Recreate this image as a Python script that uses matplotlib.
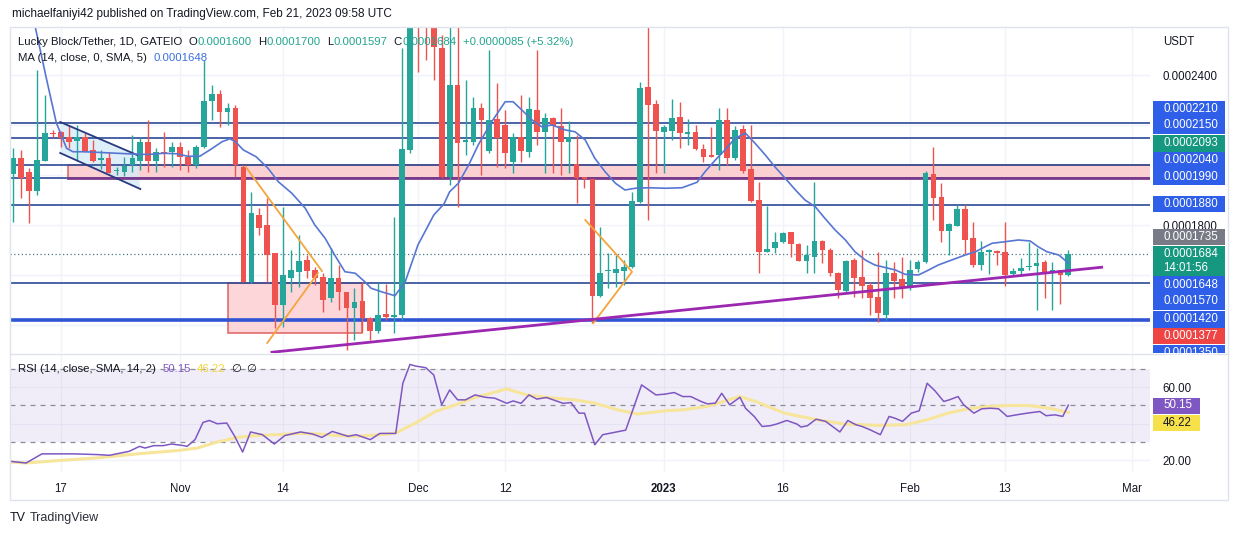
import numpy as np
import pandas as pd
import matplotlib
matplotlib.use('Agg')
import matplotlib.pyplot as plt
import matplotlib.dates as mdates
from matplotlib.patches import Rectangle, Polygon

plt.rcParams['font.family'] = ['Liberation Sans', 'DejaVu Sans']

# ---- data (prices in units of 1e-7 USDT, one candle per day from 2022-10-11) ----
start = '2022-10-11'
open_ = [2003, 2067, 2013, 1937, 2057, 2167, 2171, 2151, 2137, 2151, 2100, 2061, 2069, 2016, 2013, 2040, 2056, 2133, 2056, 2093, 2093, 2111, 2073, 2040, 2113, 2296, 2323, 2251,
         2267, 2033, 1573, 1840, 1800, 1687, 1480, 1587, 1613, 1660, 1620, 1593, 1507, 1587, 1533, 1467, 1496, 1427, 1376, 1443, 1434, 1440, 2100, 2850, 2700, 2700, 2508,
         1993, 2360, 2131, 2133, 2267, 2096, 2223, 2200, 2053, 2153, 2093, 2260, 2173, 2227, 2197, 2133, 2043, 1993, 1984, 1517, 1616, 1607, 1617, 1631, 1891, 2353, 2284, 2173,
         2176, 2233, 2165, 2171, 2104, 2080, 2080, 2220, 2067, 2184, 2024, 1900, 1693, 1709, 1733, 1771, 1724, 1657, 1673, 1736, 1700, 1607, 1537, 1660, 1591, 1560, 1513, 1440,
         1607, 1584, 1547, 1624, 1651, 2003, 1911, 1776, 1797, 1864, 1747, 1640, 1691, 1696, 1691, 1603, 1616, 1631, 1635, 1651, 1607, 1620, 1600]
high = [2107, 2100, 2027, 2420, 2320, 2180, 2175, 2200, 2200, 2167, 2140, 2100, 2093, 2033, 2073, 2160, 2147, 2220, 2107, 2173, 2133, 2133, 2100, 2120, 2460, 2360, 2340, 2287,
        2280, 2040, 1933, 1867, 1907, 1687, 1873, 1700, 1760, 1680, 1633, 1607, 1707, 1640, 1533, 1547, 1573, 1433, 1567, 1563, 1833, 2507, 2950, 2900, 2800, 2750, 2560,
        2620, 2620, 2380, 2313, 2287, 2500, 2367, 2260, 2167, 2320, 2313, 2500, 2247, 2233, 2269, 2216, 2160, 1993, 1984, 1793, 1687, 1680, 1660, 1933, 2373, 2620, 2300, 2200,
        2304, 2293, 2223, 2200, 2123, 2193, 2267, 2267, 2197, 2200, 2200, 1973, 1876, 1773, 1773, 1773, 1727, 1720, 1973, 1740, 1707, 1611, 1660, 1667, 1700, 1573, 1693, 1660,
        1653, 1673, 1660, 1660, 2016, 2113, 1967, 1807, 1880, 1880, 1813, 1736, 1704, 1700, 1813, 1627, 1667, 1733, 1707, 1660, 1651, 1620, 1700]
low = [1813, 1907, 1807, 1920, 2055, 2153, 2113, 2107, 2056, 2093, 2053, 2024, 2007, 2000, 1997, 2013, 2020, 2013, 2013, 2033, 2033, 2020, 2013, 2030, 2107, 2220, 2193, 2200,
       1993, 1573, 1567, 1760, 1573, 1387, 1393, 1533, 1553, 1587, 1560, 1453, 1493, 1460, 1300, 1340, 1373, 1340, 1367, 1420, 1367, 1420, 2090, 2412, 2460, 2380, 1990,
       1960, 1873, 2080, 2120, 2000, 2087, 2033, 2027, 2007, 2053, 2073, 2120, 2007, 2007, 2000, 2007, 1887, 1947, 1407, 1513, 1547, 1553, 1560, 1627, 1887, 1820, 2007, 2007,
       2140, 2109, 2120, 2100, 2053, 2073, 2020, 2040, 2060, 2007, 1893, 1607, 1693, 1687, 1727, 1673, 1656, 1607, 1607, 1647, 1597, 1507, 1533, 1513, 1507, 1440, 1413, 1420,
       1507, 1507, 1540, 1613, 1647, 1820, 1733, 1680, 1797, 1683, 1633, 1620, 1603, 1640, 1557, 1597, 1597, 1620, 1460, 1509, 1460, 1483, 1597]
close = [2067, 1987, 1937, 2060, 2167, 2163, 2147, 2133, 2151, 2096, 2056, 2069, 2009, 2018, 2037, 2067, 2133, 2056, 2093, 2087, 2111, 2073, 2040, 2113, 2296, 2323, 2253, 2267,
         2040, 1573, 1847, 1787, 1680, 1480, 1600, 1620, 1656, 1616, 1587, 1500, 1587, 1533, 1467, 1493, 1427, 1376, 1440, 1433, 1437, 2104, 2850, 2700, 2620, 2512, 1993,
         2360, 2127, 2140, 2267, 2220, 2220, 2149, 2089, 2153, 2096, 2264, 2173, 2229, 2197, 2131, 2153, 1987, 1984, 1517, 1607, 1621, 1624, 1631, 1896, 2347, 2280, 2176, 2191,
         2227, 2167, 2171, 2104, 2071, 2073, 2220, 2067, 2180, 2017, 1897, 1693, 1703, 1731, 1769, 1724, 1657, 1680, 1736, 1700, 1607, 1540, 1656, 1587, 1557, 1507, 1447, 1607,
         1576, 1547, 1620, 1653, 2009, 1909, 1776, 1803, 1864, 1740, 1640, 1693, 1699, 1687, 1600, 1616, 1627, 1637, 1648, 1607, 1620, 1599, 1684]

# MA(14) line (day offset, value)
ma_day = [1.0, 2.7, 4.2, 5.4, 6.7, 7.5, 9, 11, 13, 15, 17, 19, 20.5, 22, 23.5, 25, 26.3, 27.3, 28, 29, 30.6, 32.1, 33.4, 35.1,
          36.8, 38, 39.3, 40.5, 41.8, 43.1, 44.3, 45.1, 46.4, 48.1, 49.4, 51, 53, 54.3, 55, 56.1, 57.4, 58.6, 60.3, 62, 63,
          64.1, 65.4, 66.6, 67.9, 69.6, 70.8, 72.1, 73.3, 74.6, 75.9, 77.1, 78.4, 80.1, 82.2, 84.3, 86.2, 87.2, 88.5, 89.7,
          91, 92.3, 93.5, 94.8, 96, 97.3, 98.6, 99.8, 101.1, 102.3, 103.6, 104.9, 106.1, 107.4, 108.6, 109.9, 111.2, 112.4,
          114.1, 115.4, 116.6, 118.3, 120, 121.3, 122.5, 123.4, 125, 126.7, 128.2, 129.2, 130.3, 131.8, 133]
ma_val = [2900, 2600, 2380, 2210, 2107, 2093, 2093, 2090, 2087, 2084, 2082, 2087, 2085, 2075, 2075, 2105, 2133, 2145, 2133, 2100, 2073, 2027, 1973, 1927,
          1867, 1800, 1747, 1680, 1613, 1607, 1573, 1547, 1533, 1517, 1573, 1720, 1840, 1885, 1933, 1967, 2040, 2120, 2213, 2293, 2293,
          2260, 2220, 2193, 2200, 2180, 2173, 2140, 2067, 2013, 1967, 1940, 1947, 1949, 1947, 1949, 1971, 2013, 2060, 2100,
          2147, 2167, 2127, 2080, 2033, 1987, 1940, 1900, 1873, 1827, 1780, 1740, 1693, 1660, 1640, 1630, 1620, 1603,
          1600, 1620, 1640, 1660, 1680, 1693, 1713, 1727, 1733, 1740, 1736, 1713, 1693, 1680, 1648]

# RSI(14) and its SMA
rsi_day = [-0.6, 1.6, 3.6, 7.6, 10.6, 12.1, 14.6, 15.9, 16.6, 17.7, 18.9, 19.9, 21.2, 21.9, 22.9, 23.9, 24.7, 25.7, 26.9, 27.9,
           28.9, 29.9, 31.4, 32.9, 34.2, 36.2, 37.7, 38.9, 40.2, 42.2, 43.2, 45, 46.2, 48.2, 49.1, 50, 50.7, 52, 53, 54, 55,
           56, 57, 58.2, 59.5, 60.7, 62.2, 63, 64, 65, 66, 67.2, 69.3, 70.3, 71.3, 72, 73.3, 74.3, 77.2, 79.2, 81, 82.1, 83.3,
           84.4, 85.4, 86.7, 87.5, 88.5, 89.3, 90.3, 91.6, 92.3, 93.4, 94.4, 95.4, 96.2, 97.5, 98.8, 99.3, 100.1, 101.2, 102.4,
           104.2, 105.2, 106.2, 107, 108, 109.3, 110.4, 111.1, 112.1, 113.2, 114.2, 115.2, 116.2, 117.3, 118, 119.1, 119.8,
           121.1, 122.1, 123.2, 124.2, 125.3, 126.5, 127.8, 129.4, 130.2, 131.3, 132.3, 133]
rsi_val = [19.5, 18.5, 23.5, 23.5, 23.1, 22.7, 24.9, 27.6, 26.7, 28, 28, 28.9, 28.2, 27.6, 31.3, 40.7, 41.8, 40, 40.4, 33.1,
           24.5, 35.5, 34, 28.9, 33.5, 35.5, 34.4, 32.5, 35.8, 33.1, 34, 31.3, 34.7, 34.7, 62.2, 72.5, 71.6, 70.7, 66.7, 50.4, 58.5,
           53.1, 53.1, 55.8, 54.5, 54, 51.2, 52.5, 51.2, 55.8, 53.5, 54.4, 51.2, 51.6, 45.8, 45.8, 28.5, 34, 36.5, 61.3, 55.8, 56.2, 57.1,
           54.9, 54.9, 52.2, 50.9, 51.3, 56.7, 50.4, 54.5, 48.5, 44, 38.5, 38.9, 39.8, 41.8, 39.8, 38.2, 38.9, 42.5, 41.3,
           35.5, 41.8, 39.5, 38.5, 36.7, 34, 44, 43.1, 41.3, 45.8, 47.1, 62.2, 58, 52.2, 53.1, 54.9, 50.4,
           45.8, 48.2, 48.5, 48.2, 44, 44.9, 45.8, 46.7, 44.4, 44.9, 44, 50.15]
rsi_ma_day = [-0.6, 1.6, 5.6, 10.6, 15.6, 20.7, 23.2, 25.7, 28.2, 30.7, 33.2, 36.2, 38.5, 40.7, 43.2, 46.2, 48.2, 50.7, 53.2,
              55.8, 58.2, 60.7, 62.2, 64.7, 68.2, 70.8, 73.3, 76.2, 78.7, 82.2, 84.4, 87.5, 89.5, 91.6, 93.6, 97.2, 101.3,
              104.9, 109, 112.6, 115.2, 117.8, 120.4, 122.9, 125.5, 128, 130.6, 133]
rsi_ma_val = [19.1, 18.5, 19.8, 21.3, 23.5, 25.3, 26.7, 30, 32.5, 33.6, 34, 34.7, 34.4, 33.6, 33.1, 34, 34.9, 40.4, 46.7,
              50.4, 54.4, 57.3, 59.1, 55.8, 54, 53.1, 51.3, 47.6, 45.3, 47.1, 47.6, 49.5, 52.2, 54.9, 52.2, 45.8, 42.2,
              39.8, 39.1, 39.5, 42.2, 45.8, 48.2, 49.5, 50, 50, 48.5, 46.22]

# drawings (day offset, price)
levels = [2210, 2150, 2040, 1990, 1880, 1570]
support = 1420
last_price = 1684
zone_start, zone_top, zone_bottom = 6.9, 2040, 1990
box_days, box_prices = [27.1, 44.0], [1368, 1570]
chan_up_day, chan_up = [5.9, 15.6], [2212, 2080]
chan_lo_day, chan_lo = [5.9, 16.0], [2088, 1944]
tri1a_day, tri1a = [29.3, 38.9], [2032, 1616]
tri1b_day, tri1b = [38.4, 32.0], [1608, 1328]
tri2_day, tri2 = [72.1, 78.0, 73.1], [1820, 1613, 1407]
trend_day, trend = [32.6, 137.2], [1291, 1631]

tick_dates = ['2022-10-17', '2022-11-01', '2022-11-14', '2022-12-01', '2022-12-12',
              '2023-01-01', '2023-01-16', '2023-02-01', '2023-02-13', '2023-03-01']
tick_labels = ['17', 'Nov', '14', 'Dec', '12', '2023', '16', 'Feb', '13', 'Mar']

# ---- plotting ----
U = 1e-7
GREEN, RED = '#26a69a', '#ef5350'
NAVY = '#2b4a96'
DARK = '#131722'

o, h, l, c = (np.array(a) * U for a in (open_, high, low, close))
t = mdates.date2num(pd.date_range(start, periods=len(c)))
t0 = t[0]
d = lambda days: t0 + np.array(days, dtype=float)
p = lambda vals: np.array(vals, dtype=float) * U

W, H = 1240, 535
fig = plt.figure(figsize=(W / 100, H / 100), dpi=100)


def rect(x0, y0, x1, y1):
    return [x0 / W, 1 - y1 / H, (x1 - x0) / W, (y1 - y0) / H]


ax = fig.add_axes(rect(10, 27, 1150, 353))
axr = fig.add_axes(rect(10, 355, 1150, 472), sharex=ax)

ticks = mdates.date2num(pd.to_datetime(tick_dates))
for a in (ax, axr):
    for s in a.spines.values():
        s.set_visible(False)
    a.set_xticks(ticks)
    a.grid(axis='both', color='#f0f3fa', lw=1)
    a.set_axisbelow(True)
    a.yaxis.tick_right()
    a.tick_params(axis='y', length=0, pad=9, labelsize=8.3, labelcolor=DARK)

ax.set_xlim(t0 - 0.43, t0 + 143.3)
ax.set_ylim(1288 * U, 2592 * U)
ax.tick_params(axis='x', length=0, labelbottom=False)
yt = [1400, 1600, 1800, 2000, 2200, 2400]
ax.set_yticks(p(yt), ['', '', '0.0001800', '', '', '0.0002400'])

# zones and drawings
ax.add_patch(Rectangle((d(zone_start), zone_bottom * U), t0 + 200 - d(zone_start), (zone_top - zone_bottom) * U,
                       fc='#fbd0d3', ec='#e06060', lw=1.1, zorder=1))
ax.add_patch(Rectangle((d(box_days[0]), box_prices[0] * U), box_days[1] - box_days[0], (box_prices[1] - box_prices[0]) * U,
                       fc='#fcd6d9', ec='#e06060', lw=1.1, zorder=1))
for lv in levels:
    ax.axhline(lv * U, color=NAVY, lw=1.2, zorder=2)
ax.plot([d(zone_start), t0 + 200], p([zone_bottom, zone_bottom]), color='#7b3a8c', lw=2, zorder=2)
ax.axhline(support * U, color='#2f55d4', lw=2.6, zorder=2)
ax.axhline(last_price * U, color='#4f7787', lw=0.9, ls=(0, (1, 2)), zorder=2)

chan = np.column_stack([np.r_[d(chan_up_day), d(chan_lo_day)[::-1]], np.r_[p(chan_up), p(chan_lo)[::-1]]])
ax.add_patch(Polygon(chan, closed=True, fc='#d6ebf8', ec='none', alpha=0.8, zorder=1))
ax.plot(d(chan_up_day), p(chan_up), color='#2a3a80', lw=1.3, zorder=5)
ax.plot(d(chan_lo_day), p(chan_lo), color='#2a3a80', lw=1.3, zorder=5)
ax.plot(d(tri1a_day), p(tri1a), color='#f4a53c', lw=1.3, zorder=5)
ax.plot(d(tri1b_day), p(tri1b), color='#f4a53c', lw=1.3, zorder=5)
ax.plot(d(tri2_day), p(tri2), color='#f4a53c', lw=1.3, zorder=5)
ax.plot(d(trend_day), p(trend), color='#9c27b0', lw=2, zorder=6)

# candles
col = np.where(c >= o, GREEN, RED)
ax.vlines(t, l, h, colors=col, lw=1, zorder=3)
ax.bar(t, np.maximum(np.abs(c - o), 6 * U), bottom=np.minimum(o, c), width=0.72, color=col, lw=0, zorder=4)
ax.plot(d(ma_day), p(ma_val), color='#5676d2', lw=1.2, zorder=5)

# RSI pane
axr.set_ylim(13.56, 77.67)
axr.axhspan(30, 70, color='#7e57c2', alpha=0.1, lw=0)
for v in (70, 50, 30):
    axr.axhline(v, color='#8a8d98', lw=0.9, ls=(0, (4, 4)))
axr.set_yticks([20, 40, 60], ['20.00', '', '60.00'])
axr.plot(d(rsi_ma_day), rsi_ma_val, color='#f6e59a', lw=2.2)
axr.plot(d(rsi_day), rsi_val, color='#7e57c2', lw=1.1)
axr.tick_params(axis='x', length=0, pad=8, labelsize=8.3, labelcolor=DARK)
axr.set_xticks(ticks, tick_labels)
for lab in axr.get_xticklabels():
    if lab.get_text() == '2023':
        lab.set_fontweight('bold')

# overlay in pixel coordinates
ov = fig.add_axes([0, 0, 1, 1], zorder=10)
ov.set_xlim(0, W)
ov.set_ylim(H, 0)
ov.axis('off')
ov.add_patch(Rectangle((10, 27), 1218, 473, fill=False, ec='#e0e3eb', lw=1))
ov.plot([10, 1228], [354, 354], color='#e0e3eb', lw=1)

clip = Rectangle((1140, 27), 100, 326, transform=ov.transData)
price_tags = [('0.0002210', 109, '#2f5fe8'), ('0.0002150', 125.5, '#2f5fe8'), ('0.0002093', 143.3, '#15987f'),
              ('0.0002040', 160, '#2f5fe8'), ('0.0001990', 176.5, '#2f5fe8'), ('0.0001880', 204, '#2f5fe8'),
              ('0.0001735', 237, '#787b86'), ('0.0001648', 284.5, '#2f5fe8'), ('0.0001570', 301.5, '#2f5fe8'),
              ('0.0001420', 319.5, '#2f5fe8'), ('0.0001377', 336, '#ef4444'), ('0.0001350', 353, '#2f5fe8')]
for txt, yc, fc in price_tags:
    r = ov.add_patch(Rectangle((1153, yc - 8.25), 72, 16.5, fc=fc, ec='none'))
    r.set_clip_path(clip)
    tx = ov.text(1163, yc, txt, color='white', fontsize=8.3, va='center')
    tx.set_clip_path(clip)
ov.add_patch(Rectangle((1153, 245.7), 72, 30.3, fc='#15987f', ec='none'))
ov.text(1163, 254, '0.0001684', color='white', fontsize=8.3, va='center')
ov.text(1163, 268, '14:01:56', color='white', fontsize=8.3, va='center')

ov.add_patch(Rectangle((1153, 397.5), 47, 16, fc='#7e57c2', ec='none'))
ov.text(1163, 405.5, '50.15', color='white', fontsize=8.3, va='center')
ov.add_patch(Rectangle((1153, 414.5), 47, 16, fc='#f7e14a', ec='none'))
ov.text(1163, 422.5, '46.22', color=DARK, fontsize=8.3, va='center')
ov.text(1163, 42, 'USDT', color=DARK, fontsize=8.3, va='center')


def chain(x, y, parts, size=8.2):
    prev = ov.text(x, y, parts[0][0], color=parts[0][1], fontsize=size, va='center')
    for s, cc, gap in parts[1:]:
        prev = ov.annotate(s, xy=(1, 0), xycoords=prev, xytext=(gap, 0), textcoords='offset points',
                           va='bottom', ha='left', color=cc, fontsize=size)


TEAL = '#22a58f'
ov.text(12, 14, 'michaelfaniyi42 published on TradingView.com, Feb 21, 2023 09:58 UTC',
        fontsize=8.5, color=DARK, va='center')
chain(18, 42, [('Lucky Block/Tether, 1D, GATEIO', DARK), ('O', DARK, 4.5), ('0.0001600', TEAL, 0.3),
               ('H', DARK, 4.5), ('0.0001700', TEAL, 0.3), ('L', DARK, 4.5), ('0.0001597', TEAL, 0.3),
               ('C', DARK, 4.5), ('0.0001684', TEAL, 0.3), ('+0.0000085 (+5.32%)', TEAL, 4.5)])
chain(18, 58, [('MA (14, close, 0, SMA, 5)', DARK), ('0.0001648', '#3d6ee0', 4.5)])
chain(18, 369, [('RSI (14, close, SMA, 14, 2)', DARK), ('50.15', '#7e57c2', 4.5), ('46.22', '#f0d43a', 4.5),
                ('\u2205', DARK, 4.5), ('\u2205', DARK, 3.5)])
chain(10, 518, [('TV', DARK), ('TradingView', '#2a2e39', 2.5)], size=9)

fig.savefig('out.png', dpi=100)
